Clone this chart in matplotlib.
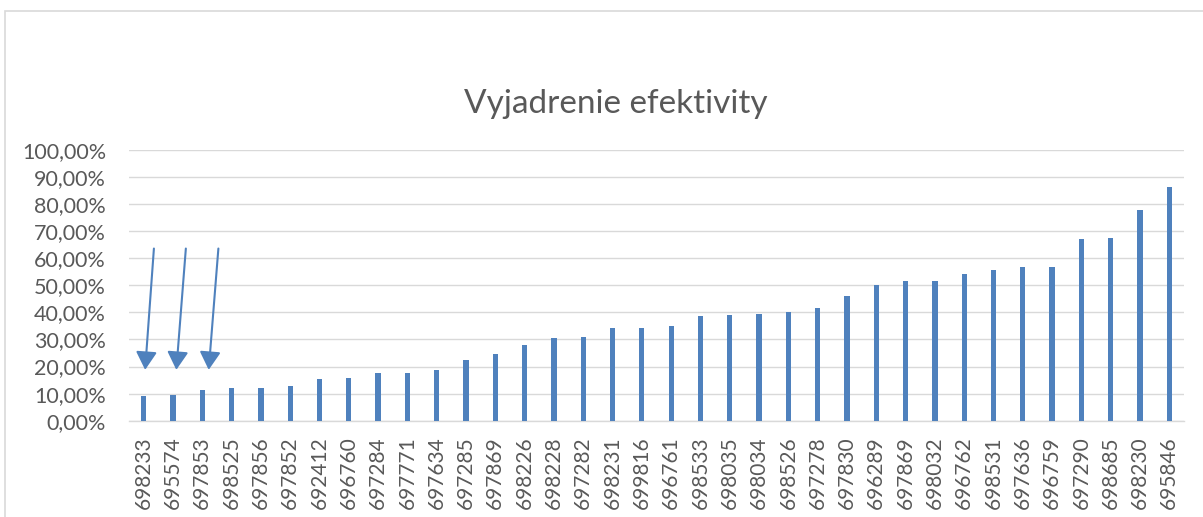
import numpy as np
import matplotlib
matplotlib.use('Agg')
import matplotlib.pyplot as plt
from matplotlib.patches import Rectangle
from matplotlib.ticker import FuncFormatter

########### data
ids = ['698233', '695574', '697853', '698525', '697856', '697852', '692412',
       '696760', '697284', '697771', '697634', '697285', '697869', '698226',
       '698228', '697282', '698231', '699816', '696761', '698533', '698035',
       '698034', '698526', '697278', '697830', '696289', '697869', '698032',
       '696762', '698531', '697636', '696759', '697290', '698685', '698230',
       '695846']
efektivita = [9.3, 9.4, 11.4, 12.0, 12.2, 13.0, 15.4, 15.8, 17.8, 17.8,
              18.8, 22.6, 24.7, 28.1, 30.4, 31.1, 34.4, 34.4, 34.8, 38.6,
              38.9, 39.4, 40.0, 41.7, 45.9, 50.0, 51.5, 51.6, 54.1, 55.6,
              56.8, 56.9, 67.2, 67.4, 77.8, 86.4]

# arrows pointing at the three lowest bars (bar index, percent)
arrow_from = [(0.35, 63.6), (1.44, 63.6), (2.55, 63.6)]
arrow_to = [(0.05, 18.8), (1.115, 18.8), (2.22, 18.8)]

blue = '#4F81BD'
grey_txt = '#595959'
grey_line = '#D9D9D9'

plt.rcParams['font.family'] = ['Lato', 'DejaVu Sans']

fig = plt.figure(figsize=(12.03, 5.17), dpi=100)
ax = fig.add_axes([129/1203, 96.3/517, 1055/1203, 270.7/517])

x = np.arange(len(ids))
vals = np.array(efektivita) / 100
ax.bar(x, vals, width=0.18, color=blue, zorder=3)

for (x0, y0), (x1, y1) in zip(arrow_from, arrow_to):
    ax.annotate('', xy=(x1, y1/100), xytext=(x0, y0/100),
                arrowprops=dict(arrowstyle='-|>,head_length=0.55,head_width=0.32',
                                mutation_scale=20, color=blue, lw=1.5,
                                shrinkA=0, shrinkB=0), zorder=4)

ax.set_xlim(-0.5, len(ids) - 0.5)
ax.set_ylim(0, 1.0)
ax.set_yticks(np.arange(0, 1.01, 0.1))
ax.yaxis.set_major_formatter(FuncFormatter(lambda v, p: ('%.2f%%' % (v*100)).replace('.', ',')))
ax.set_xticks(x)
ax.set_xticklabels(ids, rotation=90)
ax.tick_params(axis='x', length=0, pad=11.5, labelsize=15, colors=grey_txt)
ax.tick_params(axis='y', length=0, pad=16.5, labelsize=15.5, colors=grey_txt)
ax.grid(axis='y', color=grey_line, lw=1.0, zorder=0)
for s in ['top', 'right', 'left']:
    ax.spines[s].set_visible(False)
ax.spines['bottom'].set_color(grey_line)
ax.spines['bottom'].set_linewidth(1.0)

fig.text(616/1203, 1 - 104/517, 'Vyjadrenie efektivity', ha='center', va='center',
         fontsize=24, color=grey_txt)

# chart border (runs off right and bottom of the image)
fig.patches.append(Rectangle((5/1203, -0.1), 1.2, 1.1 - 11/517, transform=fig.transFigure,
                             fill=False, edgecolor=grey_line, lw=1.2))

plt.savefig('out.png', dpi=100)
